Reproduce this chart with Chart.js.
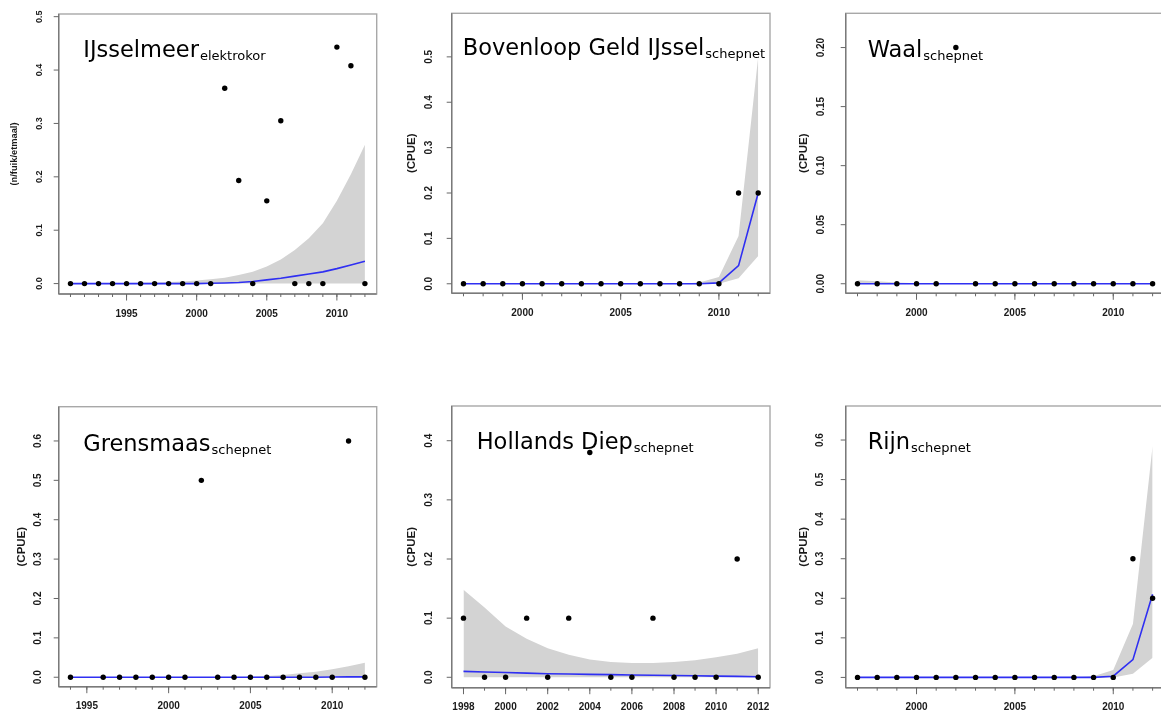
<!DOCTYPE html>
<html>
<head>
<meta charset="utf-8">
<script src="https://cdn.jsdelivr.net/npm/chart.js@4.4.1/dist/chart.umd.min.js"></script>
<style>
  html, body { margin: 0; padding: 0; background: #fff; width: 1161px; height: 715px; overflow: hidden; }
  canvas { position: absolute; }
</style>
</head>
<body>
<canvas id="p1"></canvas>
<canvas id="p2"></canvas>
<canvas id="p3"></canvas>
<canvas id="p4"></canvas>
<canvas id="p5"></canvas>
<canvas id="p6"></canvas>
<script>
// ---- IJsselmeer (elektrokor) ----
const ijmYears = [1991, 1992, 1993, 1994, 1995, 1996, 1997, 1998, 1999, 2000, 2001, 2002, 2003, 2004, 2005, 2006, 2007, 2008, 2009, 2010, 2011, 2012]
const ijmObs   = [0, 0, 0, 0, 0, 0, 0, 0, 0, 0, 0, 0.366, 0.193, 0, 0.155, 0.305, 0, 0, 0, 0.443, 0.408, 0]
const ijmFit   = [0, 0, 0, 0, 0, 0, 0, 0, 0, 0, 0.0005, 0.001, 0.002, 0.004, 0.007, 0.010, 0.014, 0.018, 0.022, 0.028, 0.035, 0.042]
const ijmUpper = [0, 0, 0, 0.0005, 0.001, 0.0015, 0.002, 0.003, 0.004, 0.006, 0.008, 0.011, 0.016, 0.022, 0.032, 0.045, 0.063, 0.085, 0.113, 0.155, 0.205, 0.26]
const ijmLower = [0, 0, 0, 0, 0, 0, 0, 0, 0, 0, 0, 0, 0, 0, 0, 0, 0, 0, 0, 0, 0, 0]
const ijmYTicks = [0, 0.1, 0.2, 0.3, 0.4, 0.5]
const ijmYLabels = ['0.0', '0.1', '0.2', '0.3', '0.4', '0.5']
const ijmXLabels = [1995, 2000, 2005, 2010]

// ---- Bovenloop Geld IJssel (schepnet) ----
const bgiYears = [1997, 1998, 1999, 2000, 2001, 2002, 2003, 2004, 2005, 2006, 2007, 2008, 2009, 2010, 2011, 2012]
const bgiObs   = [0, 0, 0, 0, 0, 0, 0, 0, 0, 0, 0, 0, 0, 0, 0.2, 0.2]
const bgiFit   = [0, 0, 0, 0, 0, 0, 0, 0, 0, 0, 0, 0, 0, 0.002, 0.04, 0.2]
const bgiUpper = [0, 0, 0, 0, 0, 0, 0, 0, 0, 0, 0, 0, 0.003, 0.015, 0.105, 0.5]
const bgiLower = [0, 0, 0, 0, 0, 0, 0, 0, 0, 0, 0, 0, 0, 0, 0.012, 0.061]
const bgiYTicks = [0, 0.1, 0.2, 0.3, 0.4, 0.5]
const bgiYLabels = ['0.0', '0.1', '0.2', '0.3', '0.4', '0.5']
const bgiXLabels = [2000, 2005, 2010]

// ---- Waal (schepnet) ----
const waalYears = [1997, 1998, 1999, 2000, 2001, 2002, 2003, 2004, 2005, 2006, 2007, 2008, 2009, 2010, 2011, 2012]
const waalObs   = [0, 0, 0, 0, 0, 0.2, 0, 0, 0, 0, 0, 0, 0, 0, 0, 0]
const waalFit   = [0, 0, 0, 0, 0, 0, 0, 0, 0, 0, 0, 0, 0, 0, 0, 0]
const waalUpper = [0.003, 0.002, 0.001, 0.0005, 0, 0, 0, 0, 0, 0, 0, 0, 0, 0, 0, 0]
const waalLower = [0, 0, 0, 0, 0, 0, 0, 0, 0, 0, 0, 0, 0, 0, 0, 0]
const waalYTicks = [0, 0.05, 0.1, 0.15, 0.2]
const waalYLabels = ['0.00', '0.05', '0.10', '0.15', '0.20']
const waalXLabels = [2000, 2005, 2010]

// ---- Grensmaas (schepnet) ----
const gmYears = [1994, 1995, 1996, 1997, 1998, 1999, 2000, 2001, 2002, 2003, 2004, 2005, 2006, 2007, 2008, 2009, 2010, 2011, 2012]
const gmObs   = [0, null, 0, 0, 0, 0, 0, 0, 0.5, 0, 0, 0, 0, 0, 0, 0, 0, 0.6, 0]
const gmFit   = [0, 0, 0, 0, 0, 0, 0, 0, 0, 0, 0, 0, 0, 0, 0, 0, 0.0005, 0.001, 0.001]
const gmUpper = [0, 0, 0, 0, 0, 0, 0, 0, 0, 0, 0, 0.001, 0.003, 0.006, 0.010, 0.014, 0.020, 0.028, 0.037]
const gmLower = [0, 0, 0, 0, 0, 0, 0, 0, 0, 0, 0, 0, 0, 0, 0, 0, 0, 0, 0]
const gmYTicks = [0, 0.1, 0.2, 0.3, 0.4, 0.5, 0.6]
const gmYLabels = ['0.0', '0.1', '0.2', '0.3', '0.4', '0.5', '0.6']
const gmXLabels = [1995, 2000, 2005, 2010]

// ---- Hollands Diep (schepnet) ----
const hdYears = [1998, 1999, 2000, 2001, 2002, 2003, 2004, 2005, 2006, 2007, 2008, 2009, 2010, 2011, 2012]
const hdObs   = [0.1, 0, 0, 0.1, 0, 0.1, 0.38, 0, 0, 0.1, 0, 0, 0, 0.2, 0]
const hdFit   = [0.010, 0.009, 0.008, 0.007, 0.006, 0.0055, 0.005, 0.0045, 0.004, 0.0035, 0.003, 0.0025, 0.002, 0.0015, 0.001]
const hdUpper = [0.148, 0.118, 0.086, 0.065, 0.049, 0.038, 0.030, 0.026, 0.024, 0.024, 0.026, 0.029, 0.034, 0.040, 0.049]
const hdLower = [0, 0, 0, 0, 0, 0, 0, 0, 0, 0, 0, 0, 0, 0, 0]
const hdYTicks = [0, 0.1, 0.2, 0.3, 0.4]
const hdYLabels = ['0.0', '0.1', '0.2', '0.3', '0.4']
const hdXLabels = [1998, 2000, 2002, 2004, 2006, 2008, 2010, 2012]

// ---- Rijn (schepnet) ----
const rijnYears = [1997, 1998, 1999, 2000, 2001, 2002, 2003, 2004, 2005, 2006, 2007, 2008, 2009, 2010, 2011, 2012]
const rijnObs   = [0, 0, 0, 0, 0, 0, 0, 0, 0, 0, 0, 0, 0, 0, 0.3, 0.2]
const rijnFit   = [0, 0, 0, 0, 0, 0, 0, 0, 0, 0, 0, 0, 0, 0.003, 0.045, 0.21]
const rijnUpper = [0, 0, 0, 0, 0, 0, 0, 0, 0, 0, 0, 0, 0.003, 0.019, 0.135, 0.585]
const rijnLower = [0, 0, 0, 0, 0, 0, 0, 0, 0, 0, 0, 0, 0, 0, 0.009, 0.05]
const rijnYTicks = [0, 0.1, 0.2, 0.3, 0.4, 0.5, 0.6]
const rijnYLabels = ['0.0', '0.1', '0.2', '0.3', '0.4', '0.5', '0.6']
const rijnXLabels = [2000, 2005, 2010]

// panel layout: cell = canvas rect on the page, box = plot frame on the page
const panels = [
  { id: 'p1', cell: [0, 0, 390, 330], box: [58.7, 14, 376.7, 294], xr: [1990.16, 2012.84], yr: [-0.0195, 0.505],
    years: ijmYears, obs: ijmObs, fit: ijmFit, upper: ijmUpper, lower: ijmLower,
    yTicks: ijmYTicks, yLabels: ijmYLabels, xLabels: ijmXLabels,
    title: 'IJsselmeer', sub: 'elektrokor', tx: 83.3, ty: 56.7, ylab: '(n/fuik/etmaal)', ylabFont: 'bold 9.3px "Liberation Sans"',
    ylabOff: -44, yTickOff: -19, yTickFont: 'bold 9px "Liberation Sans"' },
  { id: 'p2', cell: [390, 0, 390, 330], box: [451.7, 13.3, 770, 293.3], xr: [1996.4, 2012.6], yr: [-0.021, 0.596],
    years: bgiYears, obs: bgiObs, fit: bgiFit, upper: bgiUpper, lower: bgiLower,
    yTicks: bgiYTicks, yLabels: bgiYLabels, xLabels: bgiXLabels,
    title: 'Bovenloop Geld IJssel', sub: 'schepnet', tx: 462.7, ty: 55, ylab: '(CPUE)', ylabOff: -40, yTickOff: -22 },
  { id: 'p3', cell: [780, 0, 390, 330], box: [845.7, 13.3, 1164.4, 293.3], xr: [1996.4, 2012.6], yr: [-0.0081, 0.229],
    years: waalYears, obs: waalObs, fit: waalFit, upper: waalUpper, lower: waalLower,
    yTicks: waalYTicks, yLabels: waalYLabels, xLabels: waalXLabels,
    title: 'Waal', sub: 'schepnet', tx: 867.7, ty: 57.3, ylab: '(CPUE)', ylabOff: -42, yTickOff: -24 },
  { id: 'p4', cell: [0, 385, 390, 330], box: [58.7, 406.7, 376.7, 686.7], xr: [1993.28, 2012.72], yr: [-0.024, 0.687],
    years: gmYears, obs: gmObs, fit: gmFit, upper: gmUpper, lower: gmLower,
    yTicks: gmYTicks, yLabels: gmYLabels, xLabels: gmXLabels,
    title: 'Grensmaas', sub: 'schepnet', tx: 83.3, ty: 451, ylab: '(CPUE)', ylabOff: -37, yTickOff: -20.5 },
  { id: 'p5', cell: [390, 385, 390, 330], box: [451.7, 406, 770, 687.7], xr: [1997.44, 2012.56], yr: [-0.0176, 0.4587],
    years: hdYears, obs: hdObs, fit: hdFit, upper: hdUpper, lower: hdLower,
    yTicks: hdYTicks, yLabels: hdYLabels, xLabels: hdXLabels,
    title: 'Hollands Diep', sub: 'schepnet', tx: 476.7, ty: 449.3, ylab: '(CPUE)', ylabOff: -40, yTickOff: -22.4 },
  { id: 'p6', cell: [780, 385, 390, 330], box: [845.7, 406, 1164.4, 687.7], xr: [1996.4, 2012.6], yr: [-0.026, 0.686],
    years: rijnYears, obs: rijnObs, fit: rijnFit, upper: rijnUpper, lower: rijnLower,
    yTicks: rijnYTicks, yLabels: rijnYLabels, xLabels: rijnXLabels,
    title: 'Rijn', sub: 'schepnet', tx: 867.7, ty: 449.3, ylab: '(CPUE)', ylabOff: -42, yTickOff: -25 }
]

// R-style frame, ticks and labels, placed with the chart's own scales
const rAxes = {
  id: 'rAxes',
  afterDraw(chart, args, p) {
    const { ctx, chartArea: a, scales: { x, y } } = chart
    const line = (x1, y1, x2, y2) => { ctx.beginPath(); ctx.moveTo(x1, y1); ctx.lineTo(x2, y2); ctx.stroke() }
    ctx.save()
    ctx.lineWidth = 1.4
    ctx.strokeStyle = '#a8a8a8'
    ctx.strokeRect(a.left, a.top, a.right - a.left, a.bottom - a.top)
    ctx.strokeStyle = '#7a7a7a'
    line(a.left, a.top, a.left, a.bottom)
    line(a.left, a.bottom, a.right, a.bottom)

    // x ticks: every year small, labelled years longer
    ctx.lineWidth = 1
    ctx.strokeStyle = '#666'
    p.years.forEach(v => { const px = x.getPixelForValue(v); line(px, a.bottom, px, a.bottom + 3) })
    ctx.fillStyle = '#1a1a1a'
    ctx.font = 'bold 10px "Liberation Sans"'
    ctx.textAlign = 'center'
    ctx.textBaseline = 'middle'
    p.xLabels.forEach(v => {
      const px = x.getPixelForValue(v)
      line(px, a.bottom, px, a.bottom + 6.5)
      ctx.fillText(String(v), px, a.bottom + 20)
    })

    // y ticks with rotated labels
    ctx.font = p.yTickFont || 'bold 10px "Liberation Sans"'
    p.yTicks.forEach((v, i) => {
      const py = y.getPixelForValue(v)
      line(a.left - 5, py, a.left, py)
      ctx.save()
      ctx.translate(a.left + p.yTickOff, py)
      ctx.rotate(-Math.PI / 2)
      ctx.fillText(p.yLabels[i], 0, 0)
      ctx.restore()
    })

    // y axis title
    ctx.save()
    ctx.font = p.ylabFont || 'bold 11.5px "Liberation Sans"'
    ctx.translate(a.left + p.ylabOff, (a.top + a.bottom) / 2)
    ctx.rotate(-Math.PI / 2)
    ctx.fillText(p.ylab, 0, 0)
    ctx.restore()

    // panel title with subscript
    ctx.fillStyle = '#000'
    ctx.textAlign = 'left'
    ctx.textBaseline = 'alphabetic'
    ctx.font = '22.5px "DejaVu Sans"'
    const tx = a.left + p.dx, ty = a.top + p.dy
    ctx.fillText(p.title, tx, ty)
    const w = ctx.measureText(p.title).width
    ctx.font = '13px "DejaVu Sans"'
    ctx.fillText(p.sub, tx + w + 1, ty + 3)
    ctx.restore()
  }
}

panels.forEach(p => {
  const [cx, cy, cw, ch] = p.cell
  const [L, T, R, B] = p.box
  const canvas = document.getElementById(p.id)
  canvas.width = cw
  canvas.height = ch
  canvas.style.left = cx + 'px'
  canvas.style.top = cy + 'px'
  canvas.style.width = cw + 'px'
  canvas.style.height = ch + 'px'

  const pts = arr => p.years.map((yr, i) => ({ x: yr, y: arr[i] })).filter(d => d.y !== null)

  new Chart(canvas, {
    type: 'line',
    data: {
      datasets: [
        {
          data: pts(p.upper), fill: '+1', backgroundColor: '#d3d3d3',
          borderColor: 'rgba(0,0,0,0)', borderWidth: 0, pointRadius: 0, tension: 0, order: 2
        },
        {
          data: pts(p.lower), fill: false,
          borderColor: 'rgba(0,0,0,0)', borderWidth: 0, pointRadius: 0, tension: 0, order: 3
        },
        {
          data: pts(p.fit), fill: false, borderColor: '#2f2ff2', borderWidth: 1.6,
          pointRadius: 0, tension: 0, order: 1
        },
        {
          data: pts(p.obs), showLine: false, pointRadius: 2.7, pointBorderWidth: 0,
          pointBackgroundColor: '#000', order: 0
        }
      ]
    },
    options: {
      responsive: false,
      animation: false,
      events: [],
      layout: { padding: { left: L - cx, top: T - cy, right: cx + cw - R, bottom: cy + ch - B } },
      scales: {
        x: { type: 'linear', min: p.xr[0], max: p.xr[1], display: false },
        y: { type: 'linear', min: p.yr[0], max: p.yr[1], display: false }
      },
      plugins: {
        legend: { display: false },
        tooltip: { enabled: false },
        rAxes: {
          years: p.years, xLabels: p.xLabels, yTicks: p.yTicks, yLabels: p.yLabels,
          yTickOff: p.yTickOff, yTickFont: p.yTickFont, ylab: p.ylab, ylabOff: p.ylabOff, ylabFont: p.ylabFont,
          title: p.title, sub: p.sub, dx: p.tx - L, dy: p.ty - T
        }
      }
    },
    plugins: [rAxes]
  })
})
</script>
</body>
</html>
